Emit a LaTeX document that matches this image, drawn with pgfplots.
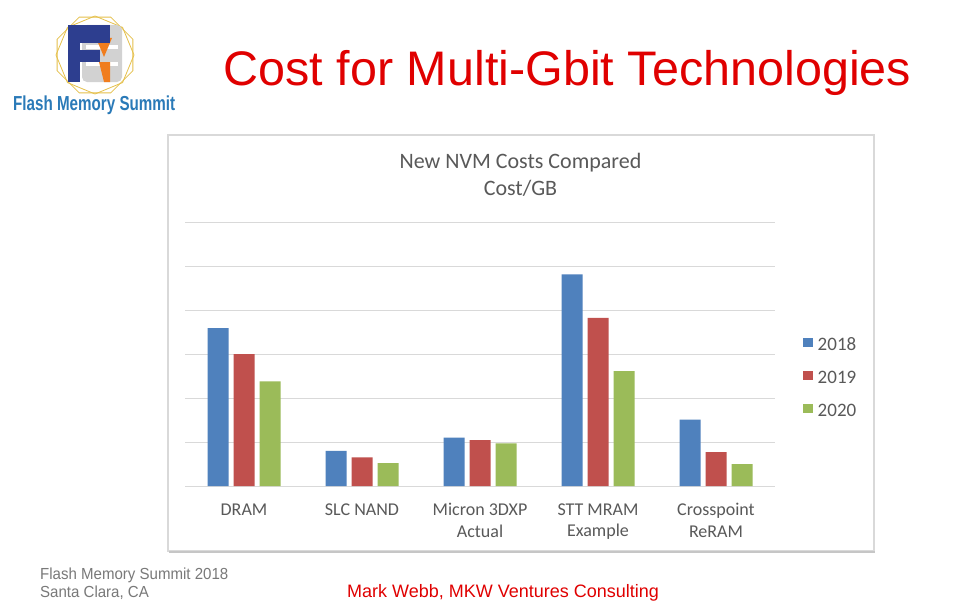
\documentclass[border=0pt]{standalone}
\usepackage{pgfplots}
\pgfplotsset{compat=1.18}
\usepackage{fontspec}
\setmainfont{Liberation Sans}
\newfontfamily\calibri{Carlito}
\definecolor{c18}{HTML}{4F81BD}
\definecolor{c19}{HTML}{C0504D}
\definecolor{c20}{HTML}{9BBB59}
\definecolor{ctext}{HTML}{595959}
\definecolor{cgrid}{HTML}{D9D9D9}
\definecolor{slidered}{HTML}{E00000}
\definecolor{logoblue}{HTML}{2A7AB8}
\definecolor{fblue}{HTML}{2D3E8F}
\definecolor{gold}{HTML}{E5C04A}
\definecolor{forange}{HTML}{F07D1E}
\begin{document}
\begin{tikzpicture}
\begin{scope}[x=1pt,y=-1pt]
\fill[white] (0,0) rectangle (960,602);
% logo
\begin{scope}[shift={(95,55)}]
\draw[gold,line width=0.8pt] (22.5:41) \foreach \a in {67.5,112.5,...,337.5} { -- (\a:41) } -- cycle;
\draw[gold,line width=0.8pt] (0:39) \foreach \a in {45,90,...,315} { -- (\a:39) } -- cycle;
\end{scope}
\fill[gray!35,rounded corners=5pt] (82,25) rectangle (122,82);
\fill[white] (86,45) rectangle (118,49);
\fill[white] (86,62) rectangle (118,66);
\fill[forange] (96,38) -- (112,38) -- (104,57) -- cycle;
\fill[forange] (99,62) -- (110,62) -- (110,82) -- (104,82) -- cycle;
\fill[fblue] (68,25) rectangle (110,43);
\fill[fblue] (68,25) rectangle (80,82);
\fill[fblue] (80,50) rectangle (100,62);
\node[anchor=base west,inner sep=0pt,text=logoblue,font=\fontsize{21}{21}\selectfont\bfseries] at (13,110) {\resizebox{162pt}{!}{\scalebox{0.75}[1]{Flash Memory Summit}}};
% slide title
\node[anchor=base west,inner sep=0pt,text=slidered,font=\fontsize{48.5}{48.5}\selectfont] at (223.5,85) {Cost for Multi-Gbit Technologies};
% chart box
\draw[cgrid,line width=1.2pt] (168,135) rectangle (874,551);
\draw[gray!45,line width=1.5pt] (169,552) -- (875,552);
% chart title
\node[anchor=base,inner sep=0pt,text=ctext,font=\calibri\fontsize{22}{22}\selectfont] at (520.5,168) {New NVM Costs Compared};
\node[anchor=base,inner sep=0pt,text=ctext,font=\calibri\fontsize{22}{22}\selectfont] at (520.5,195) {Cost/GB};
% footer
\node[anchor=base west,inner sep=0pt,text=gray!95!black,font=\fontsize{16}{16}\selectfont] at (40,579) {\scalebox{0.94}[1]{Flash Memory Summit 2018}};
\node[anchor=base west,inner sep=0pt,text=gray!95!black,font=\fontsize{16}{16}\selectfont] at (40,597) {\scalebox{0.94}[1]{Santa Clara, CA}};
\node[anchor=base west,inner sep=0pt,text=slidered,font=\fontsize{18}{18}\selectfont] at (347,597) {Mark Webb, MKW Ventures Consulting};
\end{scope}
\begin{axis}[
  at={(185pt,-486pt)}, anchor=south west,
  width=590pt, height=264pt, scale only axis,
  xmin=-0.5, xmax=4.5, ymin=0, ymax=6,
  ytick={0,1,...,6}, yticklabels={},
  ymajorgrids, grid style={draw=cgrid,line width=0.8pt},
  axis line style={draw=none},
  major tick length=0pt,
  xtick={0,1,2,3,4},
  xticklabels={DRAM,SLC NAND,{Micron 3DXP\\Actual},{STT MRAM\\Example},{Crosspoint\\ReRAM}},
  xticklabel style={align=center,text=ctext,font=\calibri\fontsize{18}{21.5}\selectfont,yshift=-14pt},
  ybar=5pt, bar width=21pt,
  legend image code/.code={\fill[#1,draw=none] (0pt,-3.5pt) rectangle (9.5pt,6pt);},
  legend style={at={(1.0475,0.413)},anchor=west,draw=none,fill=none,inner sep=0pt,
    row sep=20pt,font=\calibri\fontsize{19}{19}\selectfont,text=ctext,
    nodes={inner ysep=0pt,inner xsep=2pt,text height=13pt,text depth=0pt},
    /tikz/every odd column/.append style={column sep=3pt}},
  legend cell align=left,
]
\addplot[fill=c18,draw=none] coordinates {(0,3.59) (1,0.80) (2,1.10) (3,4.81) (4,1.51)};
\addplot[fill=c19,draw=none] coordinates {(0,3.00) (1,0.65) (2,1.04) (3,3.82) (4,0.77)};
\addplot[fill=c20,draw=none] coordinates {(0,2.38) (1,0.52) (2,0.97) (3,2.61) (4,0.50)};
\legend{2018,2019,2020}
\end{axis}
\end{tikzpicture}
\end{document}
